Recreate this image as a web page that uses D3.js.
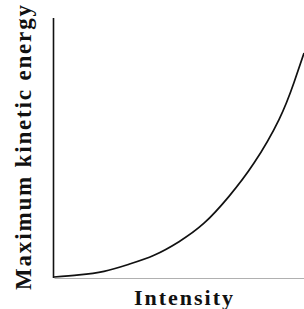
<!DOCTYPE html>
<html><head><meta charset="utf-8">
<script src="https://cdn.jsdelivr.net/npm/d3@7"></script>
<style>html,body{margin:0;padding:0;background:#fff;}svg{display:block;}
text{font-family:"Liberation Serif","Times New Roman",Times,serif;}</style>
</head><body>
<script>
const intensity = [0, 1, 2, 3, 4, 5, 6, 7, 8, 9, 9.6, 10];
const energy    = [0, 0.08, 0.22, 0.5, 0.85, 1.38, 2.1, 3.15, 4.45, 6.15, 7.6, 8.75];
const xLabel = "Intensity";
const yLabel = "Maximum kinetic energy";

const W = 304, H = 309;
const svg = d3.select("body").append("svg").attr("width", W).attr("height", H);
const x = d3.scaleLinear().domain([0, 10]).range([54, 304]);
const y = d3.scaleLinear().domain([0, 10]).range([277, 21]);

// x axis (grey)
svg.append("g").attr("transform", `translate(0,${y(0)+1})`)
  .call(d3.axisBottom(x).ticks(0).tickSizeOuter(0))
  .call(g => g.select(".domain").attr("stroke", "#b0b0b0").attr("stroke-width", 1.2));
// y axis (black)
svg.append("g").attr("transform", `translate(${x(0)-0.5},0)`)
  .call(d3.axisLeft(y).ticks(0).tickSizeOuter(0))
  .call(g => g.select(".domain").attr("stroke", "#111").attr("stroke-width", 1.6).attr("d", `M0,18V${y(0)+1}`));

const line = d3.line().x((d,i)=>x(intensity[i])).y(d=>y(d)).curve(d3.curveNatural);
svg.append("path").datum(energy).attr("d", line)
  .attr("fill", "none").attr("stroke", "#111").attr("stroke-width", 1.7);

svg.append("text").attr("x", 134).attr("y", 305)
  .attr("font-weight", "bold").attr("font-size", 22)
  .attr("textLength", 99).attr("lengthAdjust", "spacing").attr("fill", "#111").text(xLabel);

svg.append("text").attr("transform", "translate(31,290) rotate(-90)")
  .attr("font-weight", "bold").attr("font-size", 23)
  .attr("textLength", 285).attr("lengthAdjust", "spacing").attr("fill", "#111").text(yLabel);
</script>
</body></html>
